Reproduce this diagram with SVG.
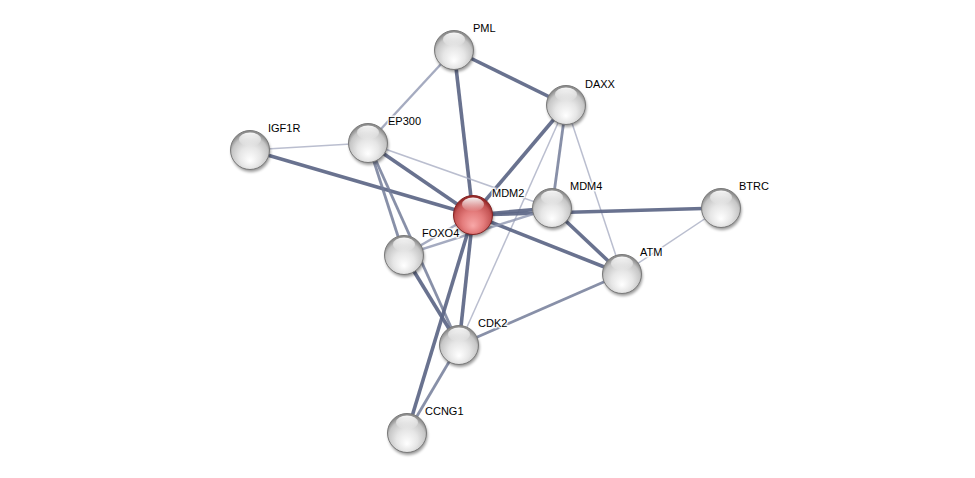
<svg xmlns="http://www.w3.org/2000/svg" width="975" height="478" viewBox="0 0 975 478">
<defs>
<radialGradient id="gw" cx="50%" cy="60%" r="55%" fx="50%" fy="78%">
<stop offset="0" stop-color="#ffffff"/>
<stop offset="0.5" stop-color="#e6e6e6"/>
<stop offset="0.85" stop-color="#c6c6c6"/>
<stop offset="1" stop-color="#8e8e8e"/>
</radialGradient>
<radialGradient id="gr" cx="50%" cy="60%" r="55%" fx="50%" fy="78%">
<stop offset="0" stop-color="#f8a8a8"/>
<stop offset="0.5" stop-color="#e47c7c"/>
<stop offset="0.85" stop-color="#c45454"/>
<stop offset="1" stop-color="#962a2a"/>
</radialGradient>
<linearGradient id="hl" x1="0" y1="0" x2="0" y2="1">
<stop offset="0" stop-color="#ffffff" stop-opacity="0.95"/>
<stop offset="1" stop-color="#ffffff" stop-opacity="0"/>
</linearGradient>
<filter id="sh" x="-50%" y="-50%" width="200%" height="200%">
<feGaussianBlur stdDeviation="1.6"/>
</filter>
<g id="wn">
<circle cx="1" cy="2.5" r="19.5" fill="#000" opacity="0.4" filter="url(#sh)"/>
<circle r="19.5" fill="url(#gw)" stroke="#7a7a7a" stroke-width="1"/>
<ellipse cx="0" cy="-10.5" rx="11" ry="7" fill="url(#hl)"/>
</g>
<g id="rn">
<circle cx="1" cy="2.5" r="19.5" fill="#000" opacity="0.4" filter="url(#sh)"/>
<circle r="19.5" fill="url(#gr)" stroke="#852424" stroke-width="1"/>
<ellipse cx="0" cy="-10.5" rx="11" ry="7" fill="url(#hl)"/>
</g>
</defs>
<style>
.e1{stroke:#5c6685;stroke-width:3.6;fill:none;stroke-opacity:0.92}
.e2{stroke:#737c99;stroke-width:2.8;fill:none;stroke-opacity:0.85}
.e3{stroke:#8e96b0;stroke-width:2.4;fill:none;stroke-opacity:0.8}
.e4{stroke:#a9aec3;stroke-width:1.5;fill:none;stroke-opacity:0.8}
text{font-family:"Liberation Sans",Arial,sans-serif;font-size:11px;fill:#000;stroke:#fff;stroke-width:3;stroke-opacity:0.85;paint-order:stroke;stroke-linejoin:round}
</style>
<rect width="975" height="478" fill="#fff"/>
<g id="connectors">
<line class="e3" x1="454" y1="50" x2="368" y2="143"/>
<line class="e1" x1="454" y1="50" x2="473" y2="215"/>
<line class="e1" x1="454" y1="50" x2="566" y2="105"/>
<line class="e1" x1="566" y1="105" x2="473" y2="215"/>
<line class="e2" x1="566" y1="105" x2="552" y2="208"/>
<line class="e4" x1="566" y1="105" x2="622" y2="274"/>
<line class="e4" x1="566" y1="105" x2="459" y2="345"/>
<line class="e4" x1="250" y1="150" x2="368" y2="143"/>
<line class="e1" x1="250" y1="150" x2="473" y2="215"/>
<line class="e1" x1="368" y1="143" x2="473" y2="215"/>
<line class="e4" x1="368" y1="143" x2="552" y2="208"/>
<line class="e2" x1="368" y1="143" x2="404" y2="255"/>
<line class="e2" x1="368" y1="143" x2="459" y2="345"/>
<line class="e1" x1="473" y1="215" x2="552" y2="208"/>
<line class="e1" x1="473" y1="215" x2="721" y2="208"/>
<line class="e1" x1="473" y1="215" x2="622" y2="274"/>
<line class="e3" x1="404" y1="255" x2="473" y2="215"/>
<line class="e3" x1="404" y1="255" x2="552" y2="208"/>
<line class="e1" x1="473" y1="215" x2="459" y2="345"/>
<line class="e1" x1="473" y1="215" x2="407" y2="433"/>
<line class="e1" x1="404" y1="255" x2="459" y2="345"/>
<line class="e1" x1="552" y1="208" x2="622" y2="274"/>
<line class="e2" x1="622" y1="274" x2="459" y2="345"/>
<line class="e4" x1="622" y1="274" x2="721" y2="208"/>
<line class="e2" x1="459" y1="345" x2="407" y2="433"/>
</g>
<g id="PML"><use href="#wn" x="454" y="50"/><text x="473" y="32">PML</text></g>
<g id="DAXX"><use href="#wn" x="566" y="105"/><text x="585" y="88">DAXX</text></g>
<g id="EP300"><use href="#wn" x="368" y="143"/><text x="388" y="125">EP300</text></g>
<g id="IGF1R"><use href="#wn" x="250" y="150"/><text x="268" y="132">IGF1R</text></g>
<g id="MDM4"><use href="#wn" x="552" y="208"/><text x="570" y="190">MDM4</text></g>
<g id="BTRC"><use href="#wn" x="721" y="208"/><text x="739" y="190">BTRC</text></g>
<g id="ATM"><use href="#wn" x="622" y="274"/><text x="640" y="256">ATM</text></g>
<g id="FOXO4"><use href="#wn" x="404" y="255"/><text x="422" y="237">FOXO4</text></g>
<g id="CDK2"><use href="#wn" x="459" y="345"/><text x="478" y="327">CDK2</text></g>
<g id="CCNG1"><use href="#wn" x="407" y="433"/><text x="425" y="415">CCNG1</text></g>
<g id="MDM2"><use href="#rn" x="473" y="215"/><text x="492" y="197">MDM2</text></g>
</svg>
